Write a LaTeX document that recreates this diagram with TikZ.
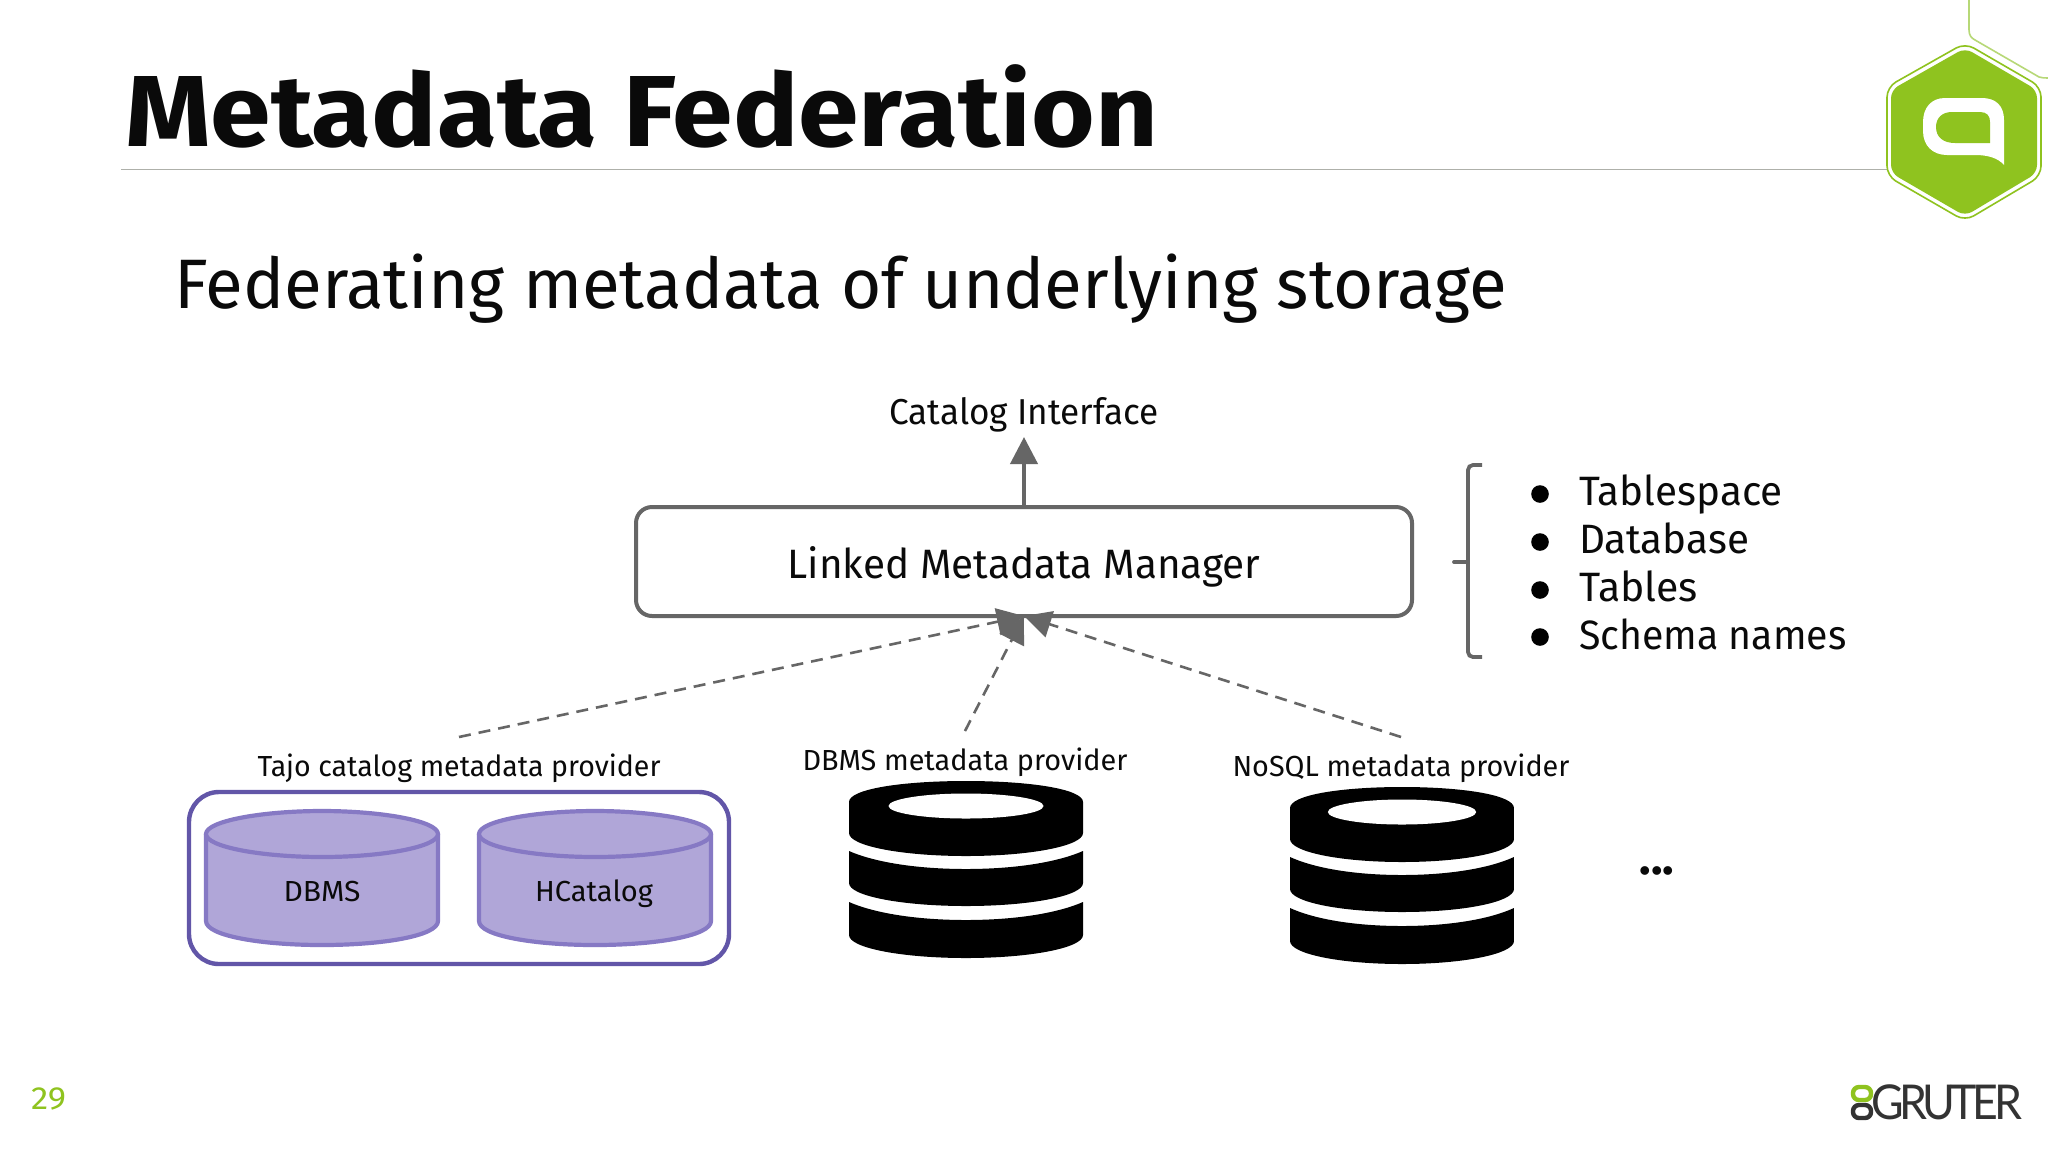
\documentclass[tikz,border=0pt]{standalone}
\usepackage{fontspec}
\usepackage{graphicx}
\setmainfont{Fira Sans}
\newfontfamily\gruterfont[LetterSpace=-10]{Lato}
\usetikzlibrary{arrows.meta}
\definecolor{ink}{HTML}{0A0A0A}
\definecolor{linegray}{HTML}{666666}
\definecolor{rulegray}{HTML}{AEB0AA}
\definecolor{lime}{HTML}{8FC31F}
\definecolor{limepale}{HTML}{B7D877}
\definecolor{violet}{HTML}{6256A8}
\definecolor{cylfill}{HTML}{B0A6D8}
\definecolor{cylline}{HTML}{8679C4}
\definecolor{logodark}{HTML}{333333}
\newcommand\fsz[1]{\fontsize{#1}{#1}\selectfont}
\newcommand\fitw[2]{\resizebox{#1}{\height}{#2}}
\newcommand\dbicon[3]{%
\begin{scope}[shift={(#1,#2)},xscale=#3]
\fill[black] (-117,21) .. controls (-117,8) and (-64,0) .. (0,0) .. controls (64,0) and (117,8) .. (117,21)
  -- (117,52) .. controls (117,65) and (64,75) .. (0,75) .. controls (-64,75) and (-117,65) .. (-117,52) -- cycle;
\fill[white] (0,25) ellipse [x radius=77.5, y radius=12.5];
\fill[black] (-117,70) .. controls (-92,81) and (-50,88) .. (0,88) .. controls (50,88) and (92,81) .. (117,70)
  -- (117,102) .. controls (117,115) and (64,125) .. (0,125) .. controls (-64,125) and (-117,115) .. (-117,102) -- cycle;
\fill[black] (-117,121) .. controls (-92,132) and (-50,139) .. (0,139) .. controls (50,139) and (92,132) .. (117,121)
  -- (117,154) .. controls (117,167) and (64,177) .. (0,177) .. controls (-64,177) and (-117,167) .. (-117,154) -- cycle;
\end{scope}}
\newcommand\cylinder[1]{%
\begin{scope}[shift={(#1,0)}]
\draw[cylshape] (-116,834) -- (-116,921) .. controls (-116,936) and (-60,945) .. (0,945) .. controls (60,945) and (116,936) .. (116,921) -- (116,834);
\draw[cylshape] (-116,834) .. controls (-116,821) and (-60,811) .. (0,811) .. controls (60,811) and (116,821) .. (116,834) .. controls (116,847) and (60,857) .. (0,857) .. controls (-60,857) and (-116,847) .. (-116,834) -- cycle;
\end{scope}}
\tikzset{
  txt/.style={inner sep=0pt, outer sep=0pt, text=ink, anchor=base},
  lefttxt/.style={inner sep=0pt, outer sep=0pt, text=ink, anchor=base west},
  cylshape/.style={draw=cylline, fill=cylfill, line width=2.1pt, line join=round},
  flow/.style={draw=linegray, line width=2pt, -{Triangle[length=13.5pt,width=13.5pt]}},
  dashflow/.style={draw=linegray, line width=1.3pt, dash pattern=on 6pt off 4pt, -{Triangle[length=13.5pt,width=13.5pt]}},
  bulletdot/.style={circle, fill=black, inner sep=0pt, outer sep=0pt, minimum size=8.8pt},
}
\begin{document}
\begin{tikzpicture}[x=0.5pt,y=-0.5pt]
\useasboundingbox (0,0) rectangle (2048,1152);
\fill[white] (0,0) rectangle (2048,1152);
% header
\node[lefttxt] (title) at (125,146) {\fsz{50.5}\bfseries\fitw{516.5pt}{Metadata Federation}};
\draw[rulegray, line width=0.8pt] (121,169.5) -- (1887,169.5);
\node[lefttxt] (subtitle) at (174,308) {\fsz{35}\fitw{666.5pt}{Federating metadata of underlying storage}};
% logo
\draw[limepale, line width=0.8pt] (1969,0) -- (1969,30) .. controls (1969,35) and (1971,38) .. (1975,40) -- (2039,77) .. controls (2042,78) and (2045,78) .. (2048,78);
\draw[lime, line width=0.8pt, rounded corners=5pt, fill=white] (1965,43) -- (2041,87) -- (2041,176) -- (1965,221) -- (1887,176) -- (1887,87) -- cycle;
\fill[lime, rounded corners=4pt] (1965,48) -- (2037,90) -- (2037,173) -- (1965,216) -- (1891,173) -- (1891,90) -- cycle;
\fill[white] (2004,165) -- (2004,120) .. controls (2004,106) and (1996,98) .. (1982,98) -- (1945,98) .. controls (1931,98) and (1923,108) .. (1923,122) -- (1923,131) .. controls (1923,146) and (1933,155) .. (1947,155) -- (1975,155) .. controls (1988,155) and (1998,158) .. (2004,165) -- cycle;
\fill[lime] (1990,143) -- (1955,143) .. controls (1943,143) and (1936,137) .. (1936,127) .. controls (1936,118) and (1942,112) .. (1952,112) -- (1980,112) .. controls (1987,112) and (1990,116) .. (1990,122) -- cycle;
% top of the diagram
\node[txt] (catalog) at (1024,424) [text depth=6.5pt] {\fsz{18}\fitw{134.5pt}{Catalog Interface}};
\node[inner sep=0pt, outer sep=0pt, draw=linegray, line width=2pt, rounded corners=8pt, fill=white,
      minimum width=388pt, text height=35.5pt, text depth=19pt, text=ink, anchor=north] (box) at (1024,507)
      {\fsz{20.5}\fitw{236.5pt}{Linked Metadata Manager}};
\draw[flow] (box.north) -- (catalog.south);
% bracket and list
\draw[linegray, line width=1.9pt, rounded corners=2.5pt] (1482,465) -- (1468,465) -- (1468,657) -- (1482,657);
\draw[linegray, line width=1.9pt, line cap=round] (1454,562) -- (1468,562);
\node[bulletdot] (b1) at (1540,494) {};
\node[bulletdot] (b2) at (1540,542) {};
\node[bulletdot] (b3) at (1540,590) {};
\node[bulletdot] (b4) at (1540,637) {};
\node[lefttxt] (l1) at (1579,505) {\fsz{20.5}\fitw{101.8pt}{Tablespace}};
\node[lefttxt] (l2) at (1579,553) {\fsz{20.5}\fitw{85pt}{Database}};
\node[lefttxt] (l3) at (1579,601) {\fsz{20.5}\fitw{59.5pt}{Tables}};
\node[lefttxt] (l4) at (1579,649) {\fsz{20.5}\fitw{133.8pt}{Schema names}};
% provider labels
\node[txt, text height=19.5pt] (tajo) at (459,776) {\fsz{14.5}\fitw{201.5pt}{Tajo catalog metadata provider}};
\node[txt, text height=19.5pt] (dbmsp) at (965,770) {\fsz{14.5}\fitw{162.5pt}{DBMS metadata provider}};
\node[txt, text height=19.5pt] (nosql) at (1401,776) {\fsz{14.5}\fitw{168.5pt}{NoSQL metadata provider}};
\draw[dashflow] (tajo.north) -- (box.south);
\draw[dashflow] (dbmsp.north) -- (box.south);
\draw[dashflow] (nosql.north) -- (box.south);
% Tajo group
\node[inner sep=0pt, outer sep=0pt, draw=violet, line width=2.2pt, rounded corners=15pt, minimum width=270pt, minimum height=86pt, anchor=north west] (group) at (189,792) {};
\cylinder{322}
\cylinder{595}
\node[txt] (dbms) at (322,901) {\fsz{14.5}\fitw{38.5pt}{DBMS}};
\node[txt] (hcat) at (594,901) {\fsz{14.5}\fitw{59pt}{HCatalog}};
% icons
\dbicon{966}{781}{1}
\dbicon{1402}{787}{0.957}
\node[txt] (more) at (1657,874) {\fsz{24}\bfseries ...};
% footer
\node[lefttxt, text=lime] (page) at (31,1109) {\fsz{16}\fitw{17.5pt}{29}};
\draw[lime, line width=2.2pt, rounded corners=3pt] (1853,1087) rectangle (1871,1100);
\draw[logodark, line width=2.2pt, rounded corners=3pt] (1853,1105) rectangle (1871,1118);
\node[lefttxt, text=logodark] (gruter) at (1871,1119) {\fsz{24}\gruterfont\resizebox{75.5pt}{\height}{GRUTER}};
\end{tikzpicture}
\end{document}
